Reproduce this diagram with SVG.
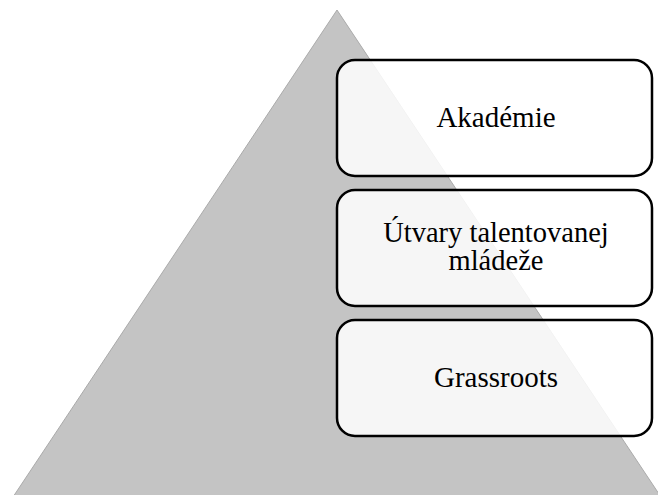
<svg xmlns="http://www.w3.org/2000/svg" width="658" height="495" viewBox="0 0 658 495">
<style>
.tri{fill:#c4c4c4;stroke:#aaaaaa;stroke-width:1}
.box{fill:#ffffff;fill-opacity:0.85;stroke:#000000;stroke-width:2.5}
.lbl{font-family:"Liberation Serif","Times New Roman",serif;font-size:29px;fill:#000000;text-anchor:middle}
.lbl2{font-size:28.5px}
</style>
<rect width="658" height="495" fill="#ffffff"/>
<g id="pyramid">
<polygon class="tri" points="337,10 13,497 661,497"/>
</g>
<g id="connectors"></g>
<g id="node-akademie">
<rect class="box" x="337" y="60" width="315" height="116" rx="18" ry="18"/>
<text class="lbl" x="496" y="127">Akadémie</text>
</g>
<g id="node-utvary">
<rect class="box" x="337" y="190" width="315" height="116" rx="18" ry="18"/>
<text class="lbl lbl2" x="496" y="242">Útvary talentovanej</text>
<text class="lbl lbl2" x="496" y="270">mládeže</text>
</g>
<g id="node-grassroots">
<rect class="box" x="337" y="320" width="315" height="116" rx="18" ry="18"/>
<text class="lbl" x="496" y="387">Grassroots</text>
</g>
</svg>
